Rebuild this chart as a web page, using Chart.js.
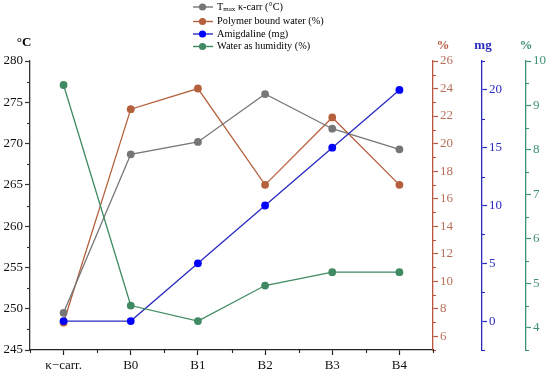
<!DOCTYPE html>
<html>
<head>
<meta charset="utf-8">
<script src="https://cdn.jsdelivr.net/npm/chart.js@4"></script>
<style>
  html, body { margin: 0; padding: 0; background: #fff; }
  #wrap { width: 550px; height: 373px; position: relative; }
</style>
</head>
<body>
<div id="wrap"><canvas id="chart"></canvas></div>
<script>
// values
const categories = ['κ−carr.', 'B0', 'B1', 'B2', 'B3', 'B4'];
const tmaxValues = [249.5, 268.7, 270.2, 276.0, 271.8, 269.3];   // °C, left axis
const boundWater = [7.0, 22.5, 24.0, 17.0, 21.9, 17.0];          // %, red axis
const amygdaline = [0, 0, 5, 10, 15, 20];                        // mg, blue axis
const humidity   = [9.46, 4.5, 4.15, 4.95, 5.25, 5.25];          // %, green axis

const serif = "'Liberation Serif', 'Times New Roman', serif";
Chart.defaults.font.family = serif;
Chart.defaults.font.size = 13;

const GREY = '#767676';
const RED = '#b5603c';
const RED_AXIS = '#b8553f';
const BLUE = '#0000ff';
const BLUE_AXIS = '#2a2ac0';
const GREEN = '#3f8a62';
const GREEN_AXIS = '#3f9272';

function isMajor(v, step) {
  const r = v / step;
  return Math.abs(r - Math.round(r)) < 1e-6;
}

// one y axis with major labels and minor ticks
function valueAxis(o) {
  return {
    type: 'linear',
    position: o.position,
    min: o.min,
    max: o.max,
    afterFit: s => { s.width = o.width; },
    border: { color: o.color, width: 1.3 },
    grid: {
      drawOnChartArea: false,
      tickLength: 5,
      tickWidth: 1.2,
      tickColor: c => isMajor(c.tick.value, o.major) ? o.color : 'rgba(0,0,0,0)'
    },
    ticks: {
      stepSize: o.minor,
      autoSkip: false,
      color: o.labelColor,
      padding: 2,
      callback: v => isMajor(v, o.major) ? String(v) : ''
    },
    _major: o.major,
    _color: o.color
  };
}

const minorTicks = {
  id: 'minorTicks',
  afterDraw(chart) {
    const ctx = chart.ctx;
    ctx.save();
    ctx.lineWidth = 1.1;
    Object.values(chart.scales).forEach(s => {
      if (s.axis !== 'y') return;
      const step = s.options._major;
      ctx.strokeStyle = s.options._color;
      s.ticks.forEach(t => {
        if (isMajor(t.value, step)) return;
        const y = Math.round(s.getPixelForValue(t.value)) + 0.5;
        ctx.beginPath();
        if (s.position === 'left') {
          ctx.moveTo(s.right, y); ctx.lineTo(s.right - 3, y);
        } else {
          ctx.moveTo(s.left, y); ctx.lineTo(s.left + 3, y);
        }
        ctx.stroke();
      });
    });
    // x axis: minor ticks on the category boundaries
    const x = chart.scales.x;
    ctx.strokeStyle = '#222';
    for (let i = 0; i <= categories.length; i++) {
      let px;
      if (i === 0) px = x.left;
      else if (i === categories.length) px = x.right;
      else px = (x.getPixelForValue(i - 1) + x.getPixelForValue(i)) / 2;
      px = Math.round(px) + 0.5;
      ctx.beginPath();
      ctx.moveTo(px, x.top);
      ctx.lineTo(px, x.top + 3);
      ctx.stroke();
    }
    ctx.restore();
  }
};

const legendItems = [
  { parts: [['T', 10.3, 0], ['max', 7, 2.5], [' κ-carr (°C)', 10.3, 0]], line: GREY, dot: GREY },
  { parts: [['Polymer bound water (%)', 10.3, 0]], line: RED, dot: RED },
  { parts: [['Amigdaline (mg)', 10.3, 0]], line: BLUE_AXIS, dot: BLUE },
  { parts: [['Water as humidity (%)', 10.3, 0]], line: GREEN, dot: GREEN }
];
const legendRows = [7, 21.5, 34, 46.5];

const titlesAndLegend = {
  id: 'titlesAndLegend',
  afterDraw(chart) {
    const ctx = chart.ctx;
    ctx.save();
    // legend
    legendItems.forEach((item, i) => {
      const y = legendRows[i];
      ctx.strokeStyle = item.line;
      ctx.lineWidth = 1.4;
      ctx.beginPath();
      ctx.moveTo(193, y); ctx.lineTo(213, y);
      ctx.stroke();
      ctx.fillStyle = item.dot;
      ctx.beginPath();
      ctx.arc(202.5, y, 3.6, 0, Math.PI * 2);
      ctx.fill();
      ctx.fillStyle = '#000';
      ctx.textBaseline = 'middle';
      ctx.textAlign = 'left';
      let tx = 217;
      item.parts.forEach(([txt, size, dy]) => {
        ctx.font = size + 'px ' + serif;
        ctx.fillText(txt, tx, y + dy);
        tx += ctx.measureText(txt).width;
      });
    });
    // axis titles
    ctx.font = 'bold 13px ' + serif;
    ctx.textAlign = 'center';
    ctx.textBaseline = 'middle';
    ctx.fillStyle = '#000';
    ctx.fillText('°C', 24, 43);
    ctx.fillStyle = RED_AXIS;
    ctx.fillText('%', chart.scales.yRed.left + 10, 46);
    ctx.fillStyle = BLUE_AXIS;
    ctx.fillText('mg', chart.scales.yBlue.left + 1, 46);
    ctx.fillStyle = GREEN_AXIS;
    ctx.fillText('%', chart.scales.yGreen.left, 46);
    ctx.restore();
  }
};

function lineSet(label, data, axis, lineColor, dotColor, order) {
  return {
    label: label,
    data: data,
    yAxisID: axis,
    borderColor: lineColor,
    backgroundColor: dotColor,
    pointBackgroundColor: dotColor,
    pointBorderWidth: 0,
    pointRadius: 3.9,
    borderWidth: 1.3,
    tension: 0,
    fill: false,
    order: order
  };
}

new Chart(document.getElementById('chart'), {
  type: 'line',
  data: {
    labels: categories,
    datasets: [
      lineSet('Tmax κ-carr (°C)', tmaxValues, 'y', GREY, GREY, 2),
      lineSet('Polymer bound water (%)', boundWater, 'yRed', RED, RED, 3),
      lineSet('Amigdaline (mg)', amygdaline, 'yBlue', BLUE_AXIS, BLUE, 1),
      lineSet('Water as humidity (%)', humidity, 'yGreen', GREEN, GREEN, 0)
    ]
  },
  options: {
    responsive: true,
    maintainAspectRatio: false,
    animation: false,
    layout: { padding: { top: 61, left: 0, right: 0, bottom: 0 } },
    plugins: {
      legend: { display: false },
      tooltip: { enabled: false }
    },
    scales: {
      x: {
        type: 'category',
        offset: true,
        afterFit: s => { s.height = 23; },
        border: { color: '#222', width: 1.3 },
        grid: { drawOnChartArea: false, offset: false, tickLength: 5, tickWidth: 1.2, tickColor: '#222' },
        ticks: { color: '#111', padding: 3, autoSkip: false, maxRotation: 0 }
      },
      y: valueAxis({ position: 'left', min: 245, max: 280, minor: 2.5, major: 5, width: 30, color: '#333', labelColor: '#111' }),
      yRed: valueAxis({ position: 'right', min: 5, max: 26, minor: 1, major: 2, width: 49, color: RED_AXIS, labelColor: '#b8705a' }),
      yBlue: valueAxis({ position: 'right', min: -2.5, max: 22.5, minor: 2.5, major: 5, width: 44, color: BLUE_AXIS, labelColor: BLUE_AXIS }),
      yGreen: valueAxis({ position: 'right', min: 3.5, max: 10, minor: 0.5, major: 1, width: 24, color: GREEN_AXIS, labelColor: GREEN_AXIS })
    }
  },
  plugins: [minorTicks, titlesAndLegend]
});
</script>
</body>
</html>
